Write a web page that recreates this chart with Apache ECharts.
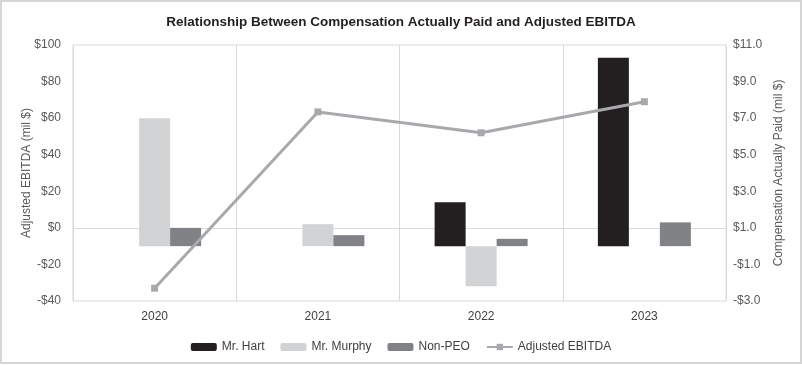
<!DOCTYPE html>
<html>
<head>
<meta charset="utf-8">
<script src="https://cdn.jsdelivr.net/npm/echarts@6/dist/echarts.min.js"></script>
<style>
html,body{margin:0;padding:0;background:#fff;}
#frame{position:absolute;left:0;top:0;width:798px;height:360px;border:2px solid #d6d6d6;}
#chart{position:absolute;left:0;top:0;width:802px;height:365px;}
</style>
</head>
<body>
<div id="frame"></div>
<div id="chart"></div>
<script>
const categories = ['2020', '2021', '2022', '2023'];
const hart = [null, null, 2.4, 10.3];
const murphy = [7.0, 1.2, -2.2, null];
const nonPeo = [1.0, 0.6, 0.4, 1.3];
const ebitda = [-33, 63.4, 52, 69];

const chart = echarts.init(document.getElementById('chart'));
const font = 'Liberation Sans, Arial, sans-serif';
function leftFmt(v){ return v < 0 ? '-$' + Math.abs(v) : '$' + v; }
function rightFmt(v){
  const r = Math.round(v);
  if (Math.abs(r) % 2 !== 1) return '';
  return r < 0 ? '-$' + Math.abs(r).toFixed(1) : '$' + r.toFixed(1);
}
chart.setOption({
  animation: false,
  textStyle: { fontFamily: font },
  title: {
    text: 'Relationship Between Compensation Actually Paid and Adjusted EBITDA',
    left: 'center', top: 10,
    textStyle: { fontFamily: font, fontSize: 13.5, fontWeight: 'bold', color: '#231f20' }
  },
  grid: { left: 73, right: 76, top: 45, bottom: 64, show: true, borderColor: '#d9d9d9', borderWidth: 1 },
  legend: {
    bottom: 7, left: 'center', itemWidth: 26, itemHeight: 8, itemGap: 16,
    textStyle: { fontSize: 12, color: '#404040', fontFamily: font },
    data: ['Mr. Hart', 'Mr. Murphy', 'Non-PEO', 'Adjusted EBITDA']
  },
  xAxis: {
    type: 'category', data: categories, boundaryGap: true,
    axisLine: { show: true, lineStyle: { color: '#d9d9d9' } },
    axisTick: { show: false },
    splitLine: { show: true, interval: 0, lineStyle: { color: '#d9d9d9' } },
    axisLabel: { color: '#404040', fontSize: 12, margin: 10 }
  },
  yAxis: [
    {
      type: 'value', min: -40, max: 100, interval: 20,
      name: 'Adjusted EBITDA (mil $)', nameLocation: 'middle', nameGap: 40, nameMoveOverlap: false,
      nameTextStyle: { color: '#595959', fontSize: 12 },
      axisLine: { show: false }, axisTick: { show: false }, splitLine: { show: false },
      axisLabel: { formatter: leftFmt, color: '#595959', fontSize: 12, margin: 12 }
    },
    {
      type: 'value', min: -3, max: 11, interval: 1,
      name: 'Compensation Actually Paid (mil $)', nameLocation: 'middle', nameGap: 46, nameRotate: 90,
      nameTextStyle: { color: '#595959', fontSize: 12 },
      axisLine: { show: false }, axisTick: { show: false }, splitLine: { show: false },
      axisLabel: { formatter: rightFmt, color: '#595959', fontSize: 12, margin: 7 }
    }
  ],
  series: [
    { name: 'Mr. Hart', type: 'bar', yAxisIndex: 1, data: hart, barWidth: 31, barGap: '0%', itemStyle: { color: '#231f20' } },
    { name: 'Mr. Murphy', type: 'bar', yAxisIndex: 1, data: murphy, barWidth: 31, barGap: '0%', itemStyle: { color: '#d1d3d4' } },
    { name: 'Non-PEO', type: 'bar', yAxisIndex: 1, data: nonPeo, barWidth: 31, barGap: '0%', itemStyle: { color: '#808285' } },
    { name: 'Adjusted EBITDA', type: 'line', yAxisIndex: 0, data: ebitda, z: 5,
      symbol: 'rect', symbolSize: 7, lineStyle: { color: '#a7a9ac', width: 3 }, itemStyle: { color: '#a7a9ac' } }
  ]
});
</script>
</body>
</html>
